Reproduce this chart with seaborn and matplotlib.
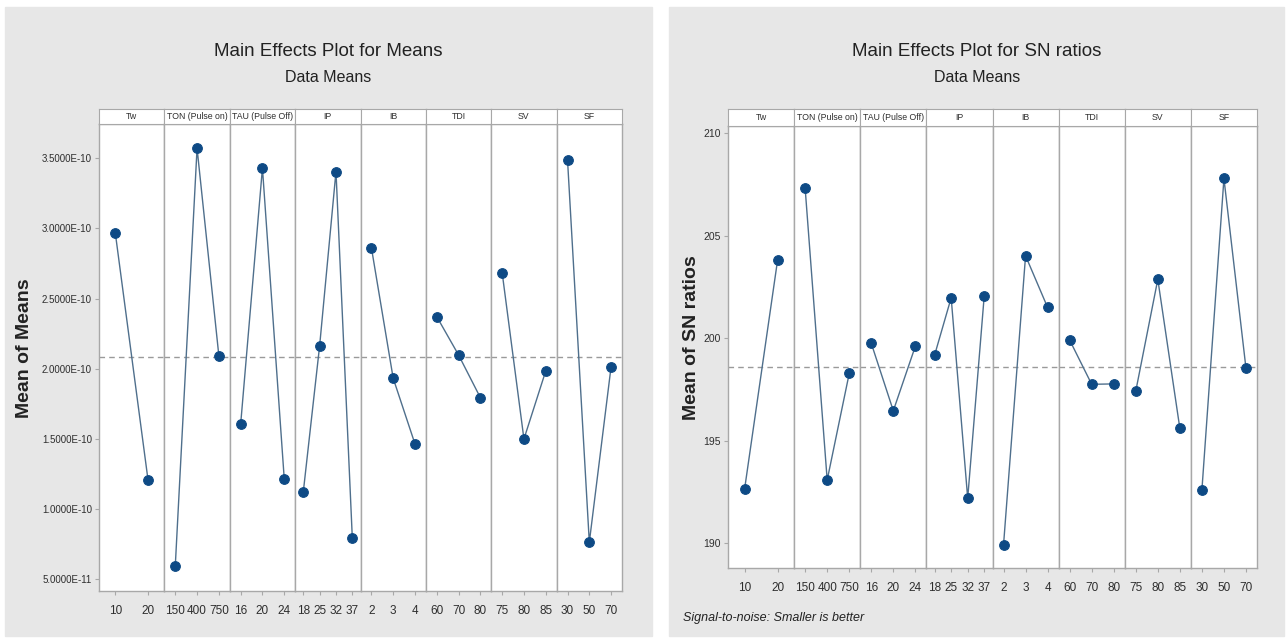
import matplotlib
matplotlib.use("Agg")
import matplotlib.pyplot as plt
import seaborn as sns
import pandas as pd
from matplotlib.patches import Rectangle
from matplotlib.ticker import FuncFormatter

sns.set_style("white")
plt.rcParams['font.family'] = ['Liberation Sans', 'DejaVu Sans']

# factors and their levels
factors = ["Tw", "TON (Pulse on)", "TAU (Pulse Off)", "IP", "IB", "TDI", "SV", "SF"]
levels = [["10", "20"], ["150", "400", "750"], ["16", "20", "24"], ["18", "25", "32", "37"],
          ["2", "3", "4"], ["60", "70", "80"], ["75", "80", "85"], ["30", "50", "70"]]

# mean of means
means_vals = [[2.965e-10, 1.207e-10],
              [0.594e-10, 3.571e-10, 2.093e-10],
              [1.604e-10, 3.430e-10, 1.216e-10],
              [1.122e-10, 2.164e-10, 3.405e-10, 0.791e-10],
              [2.863e-10, 1.932e-10, 1.464e-10],
              [2.371e-10, 2.098e-10, 1.794e-10],
              [2.685e-10, 1.499e-10, 1.984e-10],
              [3.488e-10, 0.763e-10, 2.015e-10]]
grand_mean = 2.083e-10

# mean of SN ratios (right chart)
sn_vals = [[192.63, 203.82],
           [207.32, 193.09, 198.29],
           [199.76, 196.47, 199.62],
           [199.19, 201.98, 192.20, 202.08],
           [189.92, 204.03, 201.51],
           [199.92, 197.76, 197.78],
           [197.43, 202.88, 195.61],
           [192.60, 207.80, 198.54]]
grand_sn = 198.6

W, H = 1286, 639
LINE_C = "#4f6f8c"
DOT_C = "#0e4a85"
GRID_C = "#a8a8a8"
TXT_C = "#2e2e2e"


def fx(x):
    return x / W


def fy(y):
    return 1 - y / H


def draw_block(fig, left, right, strip_top, top, bottom, values, grand, ylim, yticks, fmt, ysize):
    w = (right - left) / len(factors)
    for i, (name, lv, vals) in enumerate(zip(factors, levels, values)):
        df = pd.DataFrame({"pos": range(1, len(lv) + 1), "value": vals})
        ax = fig.add_axes([fx(left + i * w), fy(bottom), w / W, (bottom - top) / H])
        sns.lineplot(data=df, x="pos", y="value", ax=ax, color=LINE_C, linewidth=1,
                     marker="o", markersize=7, markerfacecolor=DOT_C, markeredgecolor=DOT_C)
        ax.axhline(grand, ls=(0, (4, 3)), color="#9a9a9a", lw=1, zorder=0)
        ax.set_xlim(0.5, len(lv) + 0.5)
        ax.set_ylim(*ylim)
        ax.set_xticks(range(1, len(lv) + 1))
        ax.set_xticklabels(lv)
        ax.set_yticks(yticks)
        ax.yaxis.set_major_formatter(FuncFormatter(fmt))
        ax.set_xlabel("")
        ax.set_ylabel("")
        for s in ax.spines.values():
            s.set_color(GRID_C)
            s.set_linewidth(1)
        ax.tick_params(axis="x", bottom=True, length=3, color=GRID_C, labelsize=8.5,
                       labelcolor=TXT_C, pad=7)
        if i == 0:
            ax.tick_params(axis="y", left=True, length=3, color=GRID_C, labelsize=ysize,
                           labelcolor=TXT_C, pad=2)
        else:
            ax.tick_params(axis="y", left=False, labelleft=False)

        sax = fig.add_axes([fx(left + i * w), fy(top), w / W, (top - strip_top) / H])
        sax.set_xticks([])
        sax.set_yticks([])
        for s in sax.spines.values():
            s.set_color(GRID_C)
        sax.text(0.5, 0.5, name, ha="center", va="center", fontsize=6.3, color=TXT_C)


fig = plt.figure(figsize=(W / 100, H / 100), dpi=100, facecolor="white")

# grey panel backgrounds
for x0, x1 in [(5, 652), (669, 1284)]:
    fig.patches.append(Rectangle((fx(x0), fy(636)), (x1 - x0) / W, (636 - 7) / H,
                                 transform=fig.transFigure, color="#e7e7e7", zorder=-1))

draw_block(fig, 99, 622, 109, 124, 591, means_vals, grand_mean,
           (0.416e-10, 3.744e-10), [0.5e-10, 1e-10, 1.5e-10, 2e-10, 2.5e-10, 3e-10, 3.5e-10],
           lambda v, p: "{:.4E}".format(v), 7)
draw_block(fig, 728, 1257, 109, 126, 568, sn_vals, grand_sn,
           (188.8, 210.36), [190, 195, 200, 205, 210],
           lambda v, p: "{:g}".format(v), 7.5)

# titles
fig.text(fx(328), fy(52), "Main Effects Plot for Means", ha="center", va="center", fontsize=13.5, color="#222222")
fig.text(fx(328), fy(77), "Data Means", ha="center", va="center", fontsize=11.5, color="#222222")
fig.text(fx(977), fy(52), "Main Effects Plot for SN ratios", ha="center", va="center", fontsize=13.5, color="#222222")
fig.text(fx(977), fy(77), "Data Means", ha="center", va="center", fontsize=11.5, color="#222222")

# axis labels
fig.text(fx(25), fy(348), "Mean of Means", rotation=90, ha="center", va="center",
         fontsize=14, fontweight="bold", color="#222222")
fig.text(fx(692), fy(338), "Mean of SN ratios", rotation=90, ha="center", va="center",
         fontsize=14, fontweight="bold", color="#222222")

fig.text(fx(683), fy(618), "Signal-to-noise: Smaller is better", ha="left", va="center",
         fontsize=9, style="italic", color="#222222")

fig.savefig("out.png", dpi=100, facecolor="white")
